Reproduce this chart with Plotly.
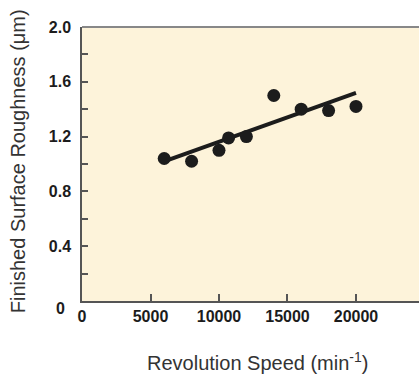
import plotly.graph_objects as go

# measured points
speed = [6000, 8000, 10000, 10700, 12000, 14000, 16000, 18000, 20000]
roughness = [1.04, 1.02, 1.10, 1.19, 1.20, 1.50, 1.40, 1.39, 1.42]

# fitted trend line end points
trend_speed = [6000, 20000]
trend_roughness = [1.02, 1.52]

x_ticks = [0, 5000, 10000, 15000, 20000]
x_labels = ["0", "5000", "10000", "15000", "20000"]
y_ticks = [0, 0.2, 0.4, 0.6, 0.8, 1.0, 1.2, 1.4, 1.6, 1.8, 2.0]
y_labels = ["", "", "0.4", "", "0.8", "", "1.2", "", "1.6", "", "2.0"]

INK = "#1c1c1c"
AXIS = "#555555"
FONT = "Liberation Sans, Arial, sans-serif"

fig = go.Figure()
fig.add_trace(
    go.Scatter(
        x=trend_speed,
        y=trend_roughness,
        mode="lines",
        line=dict(color=INK, width=4),
        hoverinfo="skip",
    )
)
fig.add_trace(
    go.Scatter(
        x=speed,
        y=roughness,
        mode="markers",
        marker=dict(color=INK, size=13),
    )
)

fig.update_xaxes(
    range=[0, 24600],
    tickvals=x_ticks,
    ticktext=x_labels,
    ticks="inside",
    ticklen=7,
    tickwidth=1.5,
    tickcolor=AXIS,
    showline=True,
    linecolor=AXIS,
    linewidth=1.5,
    showgrid=False,
    zeroline=False,
    tickfont=dict(family=FONT, size=16, color=INK, weight="bold"),
)
fig.update_yaxes(
    range=[0, 2.0],
    tickvals=y_ticks,
    ticktext=y_labels,
    ticks="inside",
    ticklen=6,
    tickwidth=1.5,
    tickcolor=AXIS,
    showline=True,
    linecolor=AXIS,
    linewidth=1.5,
    showgrid=False,
    zeroline=False,
    ticklabelstandoff=6,
    tickfont=dict(family=FONT, size=16, color=INK, weight="bold"),
)

fig.add_shape(
    type="line", xref="paper", yref="paper", x0=0, x1=1, y0=1, y1=1,
    line=dict(color="#888888", width=2),
)

fig.add_annotation(
    text="<b>0</b>", xref="paper", yref="y", x=0, y=0,
    xanchor="right", yanchor="middle", xshift=-15, yshift=-7,
    showarrow=False, font=dict(family=FONT, size=16, color=INK),
)
fig.add_annotation(
    text="Revolution Speed (min<sup>-1</sup>)", xref="paper", yref="paper",
    x=0.52, y=-0.22, yanchor="middle", showarrow=False,
    font=dict(family=FONT, size=20, color="#333333"),
)
fig.add_annotation(
    text="Finished Surface Roughness (μm)", xref="paper", yref="paper",
    x=-0.19, y=0.51, textangle=-90, xanchor="center", yanchor="middle",
    showarrow=False, font=dict(family=FONT, size=20, color="#333333"),
)

fig.update_layout(
    width=419,
    height=374,
    margin=dict(l=82, r=0, t=27, b=73),
    plot_bgcolor="#fdf3da",
    paper_bgcolor="white",
    showlegend=False,
)

# drop the page's default body margin so the figure sits at the window corner
fig.write_html(
    "out.html",
    config={"displayModeBar": False},
    post_script="document.body.style.margin='0';",
)
